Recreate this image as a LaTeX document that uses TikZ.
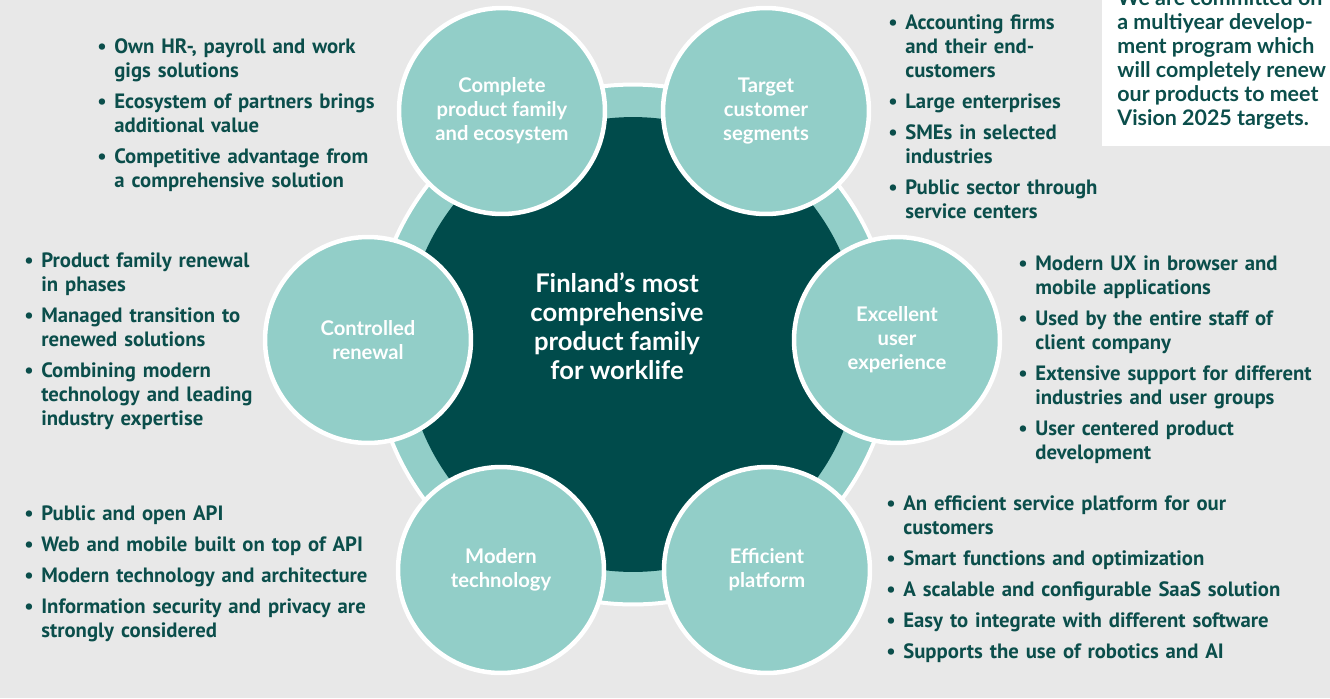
\documentclass[tikz,border=0pt]{standalone}
\usepackage{fontspec}
\setmainfont{PT Sans}
\newfontfamily\labelfont{Lato}
\definecolor{bggrey}{HTML}{E8E8E8}
\definecolor{lteal}{HTML}{92CEC8}
\definecolor{dteal}{HTML}{004B4B}
\definecolor{tteal}{HTML}{0B4E4B}
\newcommand\itm[1]{\par\hangindent=0.34cm\hangafter=1\noindent\makebox[0.34cm][l]{\textbullet}#1\par\vspace{0.14cm}}
\begin{document}
\begin{tikzpicture}[x=0.02cm,y=-0.02cm,
  sat/.style={circle, fill=lteal, draw=white, line width=0.09cm, minimum size=4.12cm, inner sep=0pt, align=center, text=white, font=\labelfont\bfseries\fontsize{11.5}{13.66}\selectfont},
  bulletlist/.style={anchor=north west, inner sep=0pt, text width=9cm, align=left, text=tteal, font=\bfseries\fontsize{11.8}{13.66}\selectfont}]
% Set the canvas
\path[use as bounding box] (0,0) rectangle (1330,698);
\clip (0,0) rectangle (1330,698);
\fill[bggrey] (0,0) rectangle (1330,698);

% Draw the ring and the core
\filldraw[fill=lteal, draw=white, line width=0.08cm] (633,344.5) circle[radius=5.2cm];
\fill[dteal] (633,344.5) circle[radius=4.55cm];
\node[align=center, text=white, inner sep=0pt, font=\labelfont\bfseries\fontsize{14.6}{16.5}\selectfont] (core) at (617,326) {Finland’s most\\comprehensive\\product family\\for worklife};

% Draw the six circles
\node[sat] (complete) at (502,111) {Complete\\product family\\and ecosystem};
\node[sat] (target) at (766,111) {Target\\customer\\segments};
\node[sat] (controlled) at (368,340) {Controlled\\renewal};
\node[sat] (excellent) at (897,340) {Excellent\\user\\experience};
\node[sat] (modern) at (501,570) {Modern\\technology};
\node[sat] (efficient) at (767,570) {Efficient\\platform};

% Insert the bullet lists
\node[bulletlist] (completelist) at (97,29) {%
\itm{Own HR-, payroll and work\newline gigs solutions}
\itm{Ecosystem of partners brings\newline additional value}
\itm{Competitive advantage from\newline a comprehensive solution}};
\node[bulletlist] (controlledlist) at (24,243) {%
\itm{Product family renewal\newline in phases}
\itm{Managed transition to\newline renewed solutions}
\itm{Combining modern\newline technology and leading\newline industry expertise}};
\node[bulletlist] (modernlist) at (24,496) {%
\itm{Public and open API}
\itm{Web and mobile built on top of API}
\itm{Modern technology and architecture}
\itm{Information security and privacy are\newline strongly considered}};
\node[bulletlist] (targetlist) at (888,5) {%
\itm{Accounting firms\newline and their end-\newline customers}
\itm{Large enterprises}
\itm{SMEs in selected\newline industries}
\itm{Public sector through\newline service centers}};
\node[bulletlist] (excellentlist) at (1018,246) {%
\itm{Modern UX in browser and\newline mobile applications}
\itm{Used by the entire staff of\newline client company}
\itm{Extensive support for different\newline industries and user groups}
\itm{User centered product\newline development}};
\node[bulletlist] (efficientlist) at (886,486) {%
\itm{An efficient service platform for our\newline customers}
\itm{Smart functions and optimization}
\itm{A scalable and configurable SaaS solution}
\itm{Easy to integrate with different software}
\itm{Supports the use of robotics and AI}};

% Commitment box
\fill[white] (1102,-10) rectangle (1340,146);
\node[anchor=north west, inner sep=0pt, align=left, text=tteal, font=\labelfont\bfseries\fontsize{12.2}{13.66}\selectfont] (commitment) at (1117,-11) {We are committed on\\a multiyear develop-\\ment program which\\will completely renew\\our products to meet\\Vision 2025 targets.};
\end{tikzpicture}
\end{document}
